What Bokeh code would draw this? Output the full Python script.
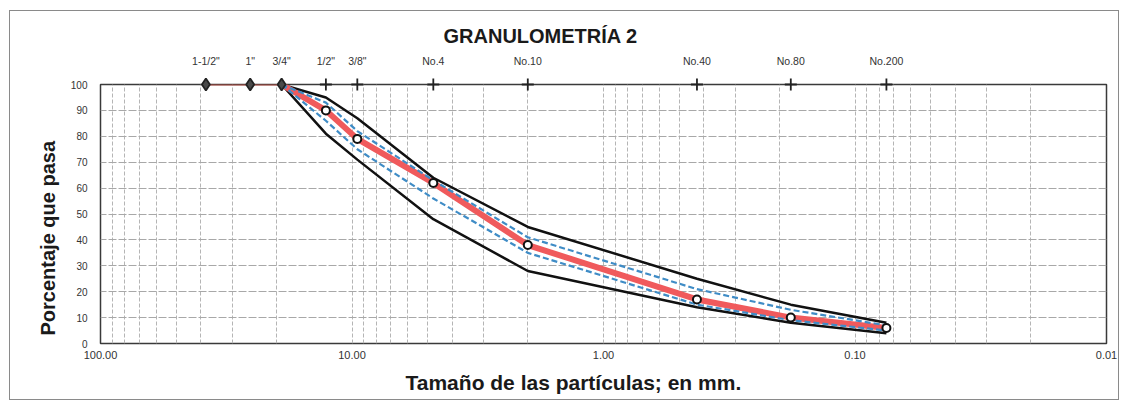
from bokeh.plotting import figure
from bokeh.models import (Range1d, LogAxis, FixedTicker, NumeralTickFormatter,
                          CustomJSTickFormatter, Title, ColumnDataSource)
from bokeh.embed import file_html
from bokeh.resources import INLINE

# ---- data -------------------------------------------------------------
sieve_labels = ['1-1/2"', '1"', '3/4"', '1/2"', '3/8"', 'No.4', 'No.10', 'No.40', 'No.80', 'No.200']
sieve_mm = [38.1, 25.4, 19.05, 12.7, 9.525, 4.75, 2.0, 0.425, 0.18, 0.075]
sieve_marker = ["diamond", "diamond", "diamond", "cross", "cross", "cross", "cross", "cross", "cross", "cross"]
sieve_top = [100, 100, 100, 100, 100, 100, 100, 100, 100, 100]

sample_pct = [100, 100, 100, 90, 79, 62, 38, 17, 10, 6]

env_mm = [19.05, 12.7, 9.525, 4.75, 2.0, 0.425, 0.18, 0.075]
upper_limit = [100, 95, 87, 64, 45, 25, 15, 8]
lower_limit = [100, 81, 71, 48, 28, 14, 8, 4]
upper_band = [100, 93, 82, 63, 41, 21, 13, 7]
lower_band = [100, 86, 75, 56, 35, 15, 9, 5]

x_ticks = [100, 10, 1, 0.1, 0.01]
y_ticks = [0, 10, 20, 30, 40, 50, 60, 70, 80, 90, 100]

FONT = "Liberation Sans"

p = figure(width=1110, height=390, x_axis_type="log",
           x_range=Range1d(100, 0.01), y_range=Range1d(0, 100),
           output_backend="svg", toolbar_location=None,
           min_border_left=90, min_border_right=14,
           min_border_top=73, min_border_bottom=56)

p.styles = {"border": "1px solid #8a8a8a", "margin-left": "9px", "margin-top": "10px"}
p.background_fill_color = "white"
p.border_fill_color = "white"
p.outline_line_color = "#3a3a3a"
p.outline_line_width = 1.5

# title
p.title.text = "GRANULOMETRÍA 2"
p.title.text_font = FONT
p.title.text_font_size = "20px"
p.title.text_font_style = "bold"
p.title.text_color = "#1a1a1a"
p.title.align = "left"
p.title.offset = 343

# bottom axis
xa = p.xaxis[0]
xa.ticker = FixedTicker(ticks=x_ticks)
xa.formatter = NumeralTickFormatter(format="0.00")
xa.axis_line_color = None
xa.major_tick_line_color = None
xa.minor_tick_line_color = None
xa.major_label_text_font = FONT
xa.major_label_text_font_size = "11px"
xa.major_label_text_color = "#333333"
xa.major_label_standoff = 1

# left axis
ya = p.yaxis[0]
ya.ticker = FixedTicker(ticks=y_ticks)
ya.axis_line_color = None
ya.major_tick_line_color = None
ya.minor_tick_line_color = None
ya.major_label_text_font = FONT
ya.major_label_text_font_size = "10px"
ya.major_label_text_color = "#333333"
ya.major_label_standoff = 7

# top axis with sieve names
top = LogAxis(ticker=FixedTicker(ticks=sieve_mm),
              formatter=CustomJSTickFormatter(args=dict(sizes=sieve_mm, labels=sieve_labels), code="""
                  let best = 0, bd = 1e9;
                  for (let i = 0; i < sizes.length; i++) {
                      const d = Math.abs(Math.log(sizes[i] / tick));
                      if (d < bd) { bd = d; best = i; }
                  }
                  return labels[best];
              """))
top.axis_line_color = None
top.major_tick_line_color = None
top.minor_tick_line_color = None
top.major_label_text_font = FONT
top.major_label_text_font_size = "10.5px"
top.major_label_text_color = "#333333"
top.major_label_standoff = 12
p.add_layout(top, "above")

# axis titles
p.add_layout(Title(text="Porcentaje que pasa", align="left", offset=8, standoff=18,
                   text_font=FONT, text_font_size="20px", text_font_style="bold",
                   text_color="#1a1a1a"), "left")
p.add_layout(Title(text="Tamaño de las partículas; en mm.", align="left", offset=305, standoff=15,
                   text_font=FONT, text_font_size="21px", text_font_style="bold",
                   text_color="#1a1a1a"), "below")

# grids
p.xgrid.ticker = FixedTicker(ticks=[m * 10.0 ** e for e in range(-2, 2) for m in range(1, 10)] + [100])
p.xgrid.grid_line_color = "#b5b5b5"
p.xgrid.grid_line_dash = "4 2"
p.xgrid.grid_line_width = 1
p.ygrid.ticker = FixedTicker(ticks=y_ticks)
p.ygrid.grid_line_color = "#a8a8a8"
p.ygrid.grid_line_dash = "8 2"
p.ygrid.grid_line_width = 1

# envelope (black)
p.line(env_mm, upper_limit, line_color="#111111", line_width=2.5)
p.line(env_mm, lower_limit, line_color="#111111", line_width=2.5)

# sample curve (red): thin along the 100 % edge, thick below it
p.line(sieve_mm[:3], sample_pct[:3], line_color="#b04a40", line_width=2)
p.line(sieve_mm[2:], sample_pct[2:], line_color="#f05a5c", line_width=6)

# inner band (blue dashed)
p.line(env_mm, upper_band, line_color="#3f8cc6", line_width=2.2, line_dash="6 3")
p.line(env_mm, lower_band, line_color="#3f8cc6", line_width=2.2, line_dash="6 3")

# sample points
p.scatter(sieve_mm[3:], sample_pct[3:], marker="circle", size=8,
          fill_color="white", line_color="#111111", line_width=2)

# sieve markers at 100 %
src = ColumnDataSource(dict(x=sieve_mm, y=sieve_top, m=sieve_marker))
p.scatter("x", "y", marker="m", source=src, size=12, line_width=1.8,
          line_color="#222222", fill_color="#4a4a4a", level="overlay")

open("out.html", "w").write(file_html(p, INLINE))
